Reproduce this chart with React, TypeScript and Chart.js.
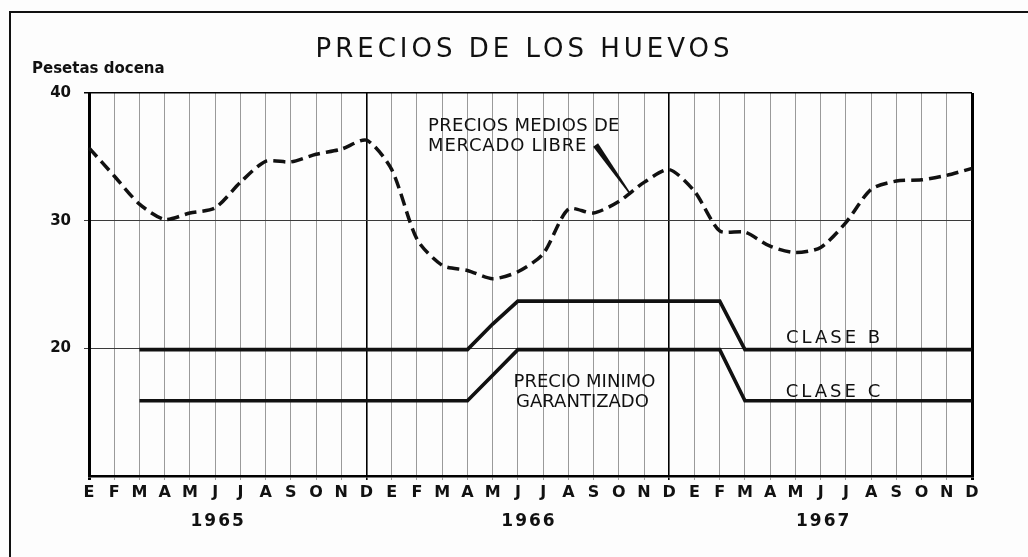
import React, { useEffect, useRef } from 'react';
import { Chart, registerables } from 'chart.js';

Chart.register(...registerables);

// ---------- data ----------
const monthLabels = [
  'E', 'F', 'M', 'A', 'M', 'J', 'J', 'A', 'S', 'O', 'N', 'D',
  'E', 'F', 'M', 'A', 'M', 'J', 'J', 'A', 'S', 'O', 'N', 'D',
  'E', 'F', 'M', 'A', 'M', 'J', 'J', 'A', 'S', 'O', 'N', 'D',
];

const yearLabels = ['1965', '1966', '1967'];
const yearLabelIndex = [5.08, 17.4, 29.08];

// Precios medios de mercado libre (pesetas/docena)
const marketPrices = [
  35.7, 33.5, 31.3, 30.1, 30.6, 31.0, 33.0, 34.65, 34.6, 35.2, 35.6, 36.3,
  34.0, 28.55, 26.5, 26.1, 25.45, 26.0, 27.4, 30.9, 30.6, 31.5, 33.0, 34.0,
  32.3, 29.2, 29.1, 28.0, 27.5, 27.9, 29.85, 32.45, 33.1, 33.2, 33.55, 34.1,
];

// Precio mínimo garantizado, clase B
const claseB = [
  null, null, 19.9, 19.9, 19.9, 19.9, 19.9, 19.9, 19.9, 19.9, 19.9, 19.9,
  19.9, 19.9, 19.9, 19.9, 21.9, 23.7, 23.7, 23.7, 23.7, 23.7, 23.7, 23.7,
  23.7, 23.7, 19.9, 19.9, 19.9, 19.9, 19.9, 19.9, 19.9, 19.9, 19.9, 19.9,
];

// Precio mínimo garantizado, clase C
const claseC = [
  null, null, 15.9, 15.9, 15.9, 15.9, 15.9, 15.9, 15.9, 15.9, 15.9, 15.9,
  15.9, 15.9, 15.9, 15.9, 17.9, 19.9, 19.9, 19.9, 19.9, 19.9, 19.9, 19.9,
  19.9, 19.9, 15.9, 15.9, 15.9, 15.9, 15.9, 15.9, 15.9, 15.9, 15.9, 15.9,
];

const yMin = 10;
const yMax = 40;
const yStep = 10;

// annotation texts anchored in data units: [text, monthIndex, value, align, letterSpacing]
const annotations: [string, number, number, CanvasTextAlign, number][] = [
  ['PRECIOS MEDIOS DE', 13.44, 37.02, 'left', 0.3],
  ['MERCADO LIBRE', 13.44, 35.46, 'left', 0.8],
  ['PRECIO MINIMO', 19.64, 16.97, 'center', 0],
  ['GARANTIZADO', 19.56, 15.41, 'center', 0],
  ['CLASE B', 29.49, 20.42, 'center', 3],
  ['CLASE C', 29.49, 16.19, 'center', 3],
];
// pointer from label to the market line: [startIdx, startVal, endIdx, endVal]
const pointer = [20.08, 35.93, 21.45, 32.1];

const FONT = '"DejaVu Sans", sans-serif';

const decorPlugin = {
  id: 'decor',
  beforeDraw(chart: any) {
    const ctx = chart.ctx as CanvasRenderingContext2D;
    ctx.save();
    ctx.fillStyle = '#fdfdfd';
    ctx.fillRect(0, 0, chart.width, chart.height);
    // outer frame
    ctx.strokeStyle = '#111';
    ctx.lineWidth = 2;
    ctx.beginPath();
    ctx.moveTo(10, chart.height + 5);
    ctx.lineTo(10, 12);
    ctx.lineTo(chart.width + 5, 12);
    ctx.stroke();
    ctx.restore();
  },
  afterDraw(chart: any) {
    const ctx = chart.ctx as CanvasRenderingContext2D;
    const xs = chart.scales.x;
    const ys = chart.scales.y;
    ctx.save();
    ctx.fillStyle = '#111';
    ctx.textBaseline = 'alphabetic';

    // title
    ctx.font = `400 26px ${FONT}`;
    (ctx as any).letterSpacing = '4px';
    ctx.textAlign = 'center';
    ctx.fillText('PRECIOS DE LOS HUEVOS', 524.5, 57);

    // y axis unit
    ctx.font = `bold 15px ${FONT}`;
    (ctx as any).letterSpacing = '0px';
    ctx.textAlign = 'left';
    ctx.fillText('Pesetas docena', 32, 73);

    // annotations
    ctx.font = `500 18px ${FONT}`;
    for (const [t, xi, v, align, ls] of annotations) {
      (ctx as any).letterSpacing = `${ls}px`;
      ctx.textAlign = align;
      const px = xs.getPixelForValue(xi) + (align === 'center' ? ls / 2 : 0);
      ctx.fillText(t, px, ys.getPixelForValue(v));
    }

    // pointer wedge
    const x1 = xs.getPixelForValue(pointer[0]);
    const y1 = ys.getPixelForValue(pointer[1]);
    const x2 = xs.getPixelForValue(pointer[2]);
    const y2 = ys.getPixelForValue(pointer[3]);
    const dx = x2 - x1;
    const dy = y2 - y1;
    const len = Math.hypot(dx, dy);
    const nx = -dy / len;
    const ny = dx / len;
    const w1 = 3;
    const w2 = 0.8;
    ctx.beginPath();
    ctx.moveTo(x1 + nx * w1, y1 + ny * w1);
    ctx.lineTo(x2 + nx * w2, y2 + ny * w2);
    ctx.lineTo(x2 - nx * w2, y2 - ny * w2);
    ctx.lineTo(x1 - nx * w1, y1 - ny * w1);
    ctx.closePath();
    ctx.fill();

    // year labels
    ctx.font = `bold 17px ${FONT}`;
    (ctx as any).letterSpacing = '2px';
    ctx.textAlign = 'center';
    yearLabels.forEach((y, i) => {
      ctx.fillText(y, xs.getPixelForValue(yearLabelIndex[i]) + 1, chart.chartArea.bottom + 50);
    });
    ctx.restore();
  },
};

export default function App() {
  const ref = useRef<HTMLCanvasElement>(null);

  useEffect(() => {
    if (!ref.current) return;
    const last = monthLabels.length - 1;
    const chart = new Chart(ref.current, {
      type: 'line',
      data: {
        labels: monthLabels,
        datasets: [
          {
            label: 'Precios medios de mercado libre',
            data: marketPrices,
            borderColor: '#111',
            borderWidth: 3.5,
            borderDash: [12, 6],
            pointRadius: 0,
            tension: 0.25,
            fill: false,
            clip: false,
          },
          {
            label: 'Clase B',
            data: claseB,
            borderColor: '#111',
            borderWidth: 3.6,
            pointRadius: 0,
            tension: 0,
            fill: false,
            clip: false,
          },
          {
            label: 'Clase C',
            data: claseC,
            borderColor: '#111',
            borderWidth: 3.6,
            pointRadius: 0,
            tension: 0,
            fill: false,
            clip: false,
          },
        ],
      },
      options: {
        animation: false,
        responsive: false,
        maintainAspectRatio: false,
        devicePixelRatio: 1,
        layout: { padding: { left: 0, right: 56, top: 93, bottom: 0 } },
        plugins: {
          legend: { display: false },
          title: { display: false },
          tooltip: { enabled: false },
        },
        scales: {
          x: {
            type: 'category',
            offset: false,
            afterFit: (s: any) => {
              s.height = 81;
            },
            grid: {
              display: true,
              drawTicks: true,
              tickLength: 4,
              color: (c: any) =>
                c.index === 0 || c.index === last || c.index % 12 === 11 ? '#000' : '#9a9a9a',
              lineWidth: (c: any) =>
                c.index === 0 || c.index === last ? 3 : c.index % 12 === 11 ? 1.6 : 1,
            },
            border: { display: true, color: '#000', width: 2.6 },
            ticks: {
              autoSkip: false,
              maxRotation: 0,
              padding: 3,
              color: '#111',
              font: { family: FONT, size: 16, weight: 'bold' },
            },
          },
          y: {
            min: yMin,
            max: yMax,
            afterFit: (s: any) => {
              s.width = 89;
            },
            grid: {
              drawTicks: true,
              tickLength: 5,
              color: (c: any) => (c.tick && c.tick.value === yMax ? '#000' : '#3a3a3a'),
              lineWidth: (c: any) =>
                c.tick && c.tick.value === yMin ? 0 : c.tick && c.tick.value === yMax ? 1.5 : 1,
            },
            border: { display: true, color: '#000', width: 3 },
            ticks: {
              stepSize: yStep,
              padding: 13,
              color: '#111',
              font: { family: FONT, size: 15, weight: 'bold' },
              callback: (v: any) => (v === yMin ? '' : String(v)),
            },
          },
        },
      },
      plugins: [decorPlugin],
    });
    return () => chart.destroy();
  }, []);

  return (
    <div style={{ position: 'absolute', left: 0, top: 0, width: 1028, height: 557 }}>
      <canvas ref={ref} width={1028} height={557} style={{ width: 1028, height: 557, display: 'block' }} />
    </div>
  );
}
